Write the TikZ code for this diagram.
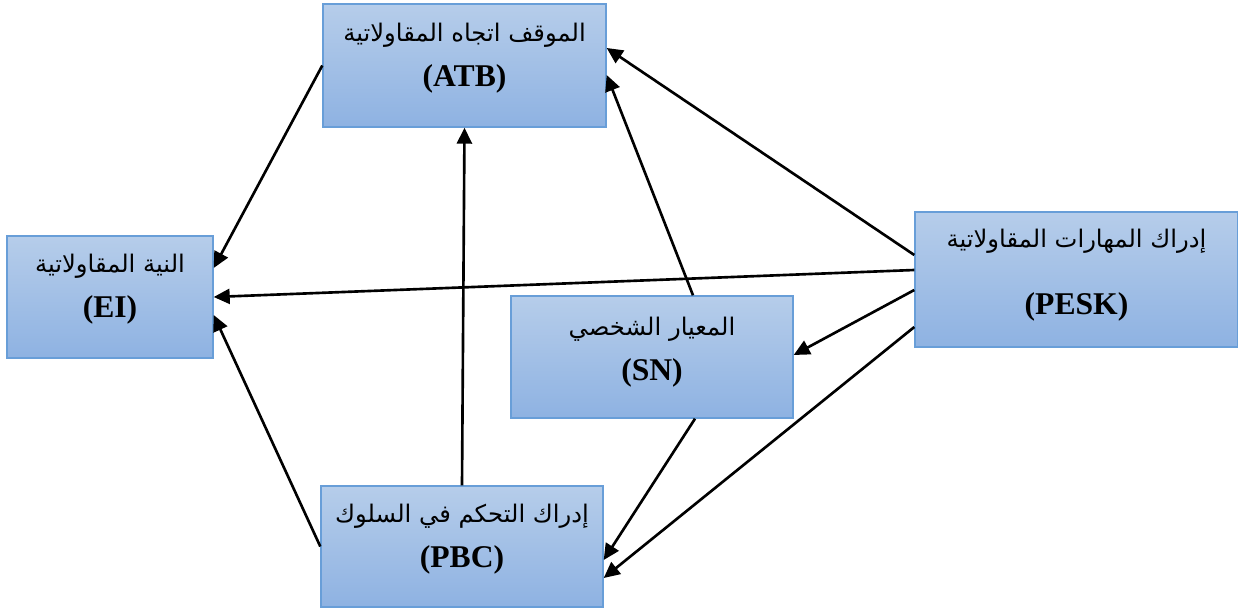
\documentclass[tikz,border=0pt]{standalone}
\usepackage{fontspec}
\setmainfont{Liberation Serif}
\newfontfamily\arabicfont[Script=Arabic]{DejaVu Sans}
\TeXXeTstate=1
\usepackage{tikz}
\usetikzlibrary{arrows.meta}
\definecolor{boxtop}{RGB}{182,205,234}
\definecolor{boxbottom}{RGB}{142,178,226}
\definecolor{boxline}{RGB}{104,158,216}
\newcommand{\artext}[1]{{\arabicfont\mdseries\fontsize{13.8}{25.5}\selectfont\beginR #1\endR}}

\begin{document}
\begin{tikzpicture}[
        box/.style={rectangle, draw=boxline, line width=0.8pt, top color=boxtop, bottom color=boxbottom, inner sep=0pt},
        boxtext/.style={align=center, inner sep=0pt, font=\fontsize{18}{25.5}\selectfont\bfseries},
        link/.style={-{Triangle[length=0.32cm,width=0.3cm]}, line width=1.5pt, black}
    ]
            \useasboundingbox (0,0) rectangle (24.76,12.2);

            \node[box, minimum width=5.66cm, minimum height=2.46cm] (atb) at (9.29,10.89) {};
            \node[boxtext] (atbtext) at (9.29,11.03) {\artext{الموقف اتجاه المقاولاتية}\\(ATB)};

            \node[box, minimum width=4.12cm, minimum height=2.44cm] (ei) at (2.2,6.26) {};
            \node[boxtext] (eitext) at (2.2,6.42) {\artext{النية المقاولاتية}\\(EI)};

            \node[box, minimum width=5.64cm, minimum height=2.44cm] (sn) at (13.04,5.06) {};
            \node[boxtext] (sntext) at (13.04,5.16) {\artext{المعيار الشخصي}\\(SN)};

            \node[box, minimum width=5.64cm, minimum height=2.42cm] (pbc) at (9.24,1.27) {};
            \node[boxtext] (pbctext) at (9.24,1.42) {\artext{إدراك التحكم في السلوك}\\(PBC)};

            \node[box, minimum width=6.46cm, minimum height=2.7cm] (pesk) at (21.53,6.61) {};
            \node[boxtext] (pesktext) at (21.53,6.69) {\artext{إدراك المهارات المقاولاتية}\\[12.5pt](PESK)};

            \draw[link] (atb.west) -- ([yshift=0.58cm]ei.east);
            \draw[link] ([yshift=0.19cm]pesk.west) -- (ei.east);
            \draw[link] (pbc.west) -- ([yshift=-0.36cm]ei.east);
            \draw[link] (pbc.north) -- (atb.south);
            \draw[link] ([xshift=0.82cm]sn.north) -- ([yshift=-0.19cm]atb.east);
            \draw[link] ([yshift=0.49cm]pesk.west) -- ([yshift=0.35cm]atb.east);
            \draw[link] ([yshift=-0.21cm]pesk.west) -- ([yshift=0.04cm]sn.east);
            \draw[link] ([xshift=0.86cm]sn.south) -- ([yshift=-0.27cm]pbc.east);
            \draw[link] ([yshift=-0.95cm]pesk.west) -- ([yshift=-0.63cm]pbc.east);
        \end{tikzpicture}
\end{document}
